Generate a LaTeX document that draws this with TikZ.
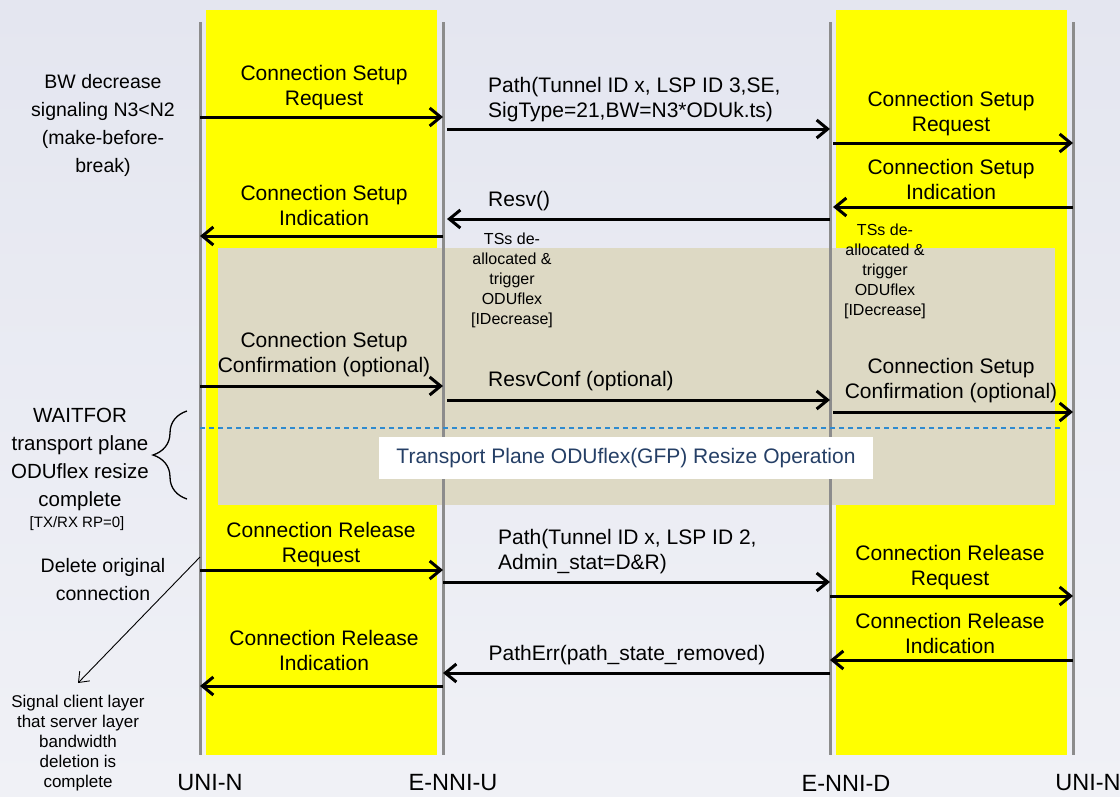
\documentclass[tikz,border=0pt]{standalone}
\usepackage{fontspec}
\setmainfont{Liberation Sans}
\usetikzlibrary{arrows.meta,decorations.pathreplacing}
\definecolor{bgtop}{HTML}{E4E6F0}
\definecolor{bgbot}{HTML}{F0F1F6}
\definecolor{lane}{HTML}{FFFF00}
\definecolor{beige}{HTML}{DDD9C4}
\definecolor{lifegray}{HTML}{8C8C8C}
\definecolor{dashblue}{HTML}{2E8BD0}
\definecolor{opblue}{HTML}{253F66}
\begin{document}
\begin{tikzpicture}[x=1pt,y=-1pt,
  lifeline/.style={draw=lifegray,line width=3pt},
  msg/.style={line width=3pt,-{Straight Barb[length=11pt,width=18pt,line width=3pt]}},
  lbl/.style={inner sep=0pt,align=center,font=\fontsize{21}{25}\selectfont},
  lbll/.style={inner sep=0pt,align=left,anchor=west,font=\fontsize{21}{25}\selectfont},
  small/.style={inner sep=0pt,align=center,font=\fontsize{16}{20}\selectfont},
  side/.style={inner sep=0pt,align=center,font=\fontsize{19.5}{28}\selectfont},
  endlbl/.style={inner sep=0pt,font=\fontsize{23.5}{25}\selectfont}]
% background
\shade[top color=bgtop,bottom color=bgbot] (0,0) rectangle (1120,796);
\useasboundingbox (0,0) rectangle (1120,796);
% yellow lanes
\fill[lane] (206,10) rectangle (437,755);
\fill[lane] (836,10) rectangle (1067,755);
% beige area
\fill[beige] (218,248) rectangle (1055,505);
% lifelines
\coordinate (A) at (200,22); \coordinate (Ab) at (200,755);
\coordinate (B) at (443,22); \coordinate (Bb) at (443,755);
\coordinate (C) at (830,22); \coordinate (Cb) at (830,755);
\coordinate (D) at (1073,22); \coordinate (Db) at (1073,755);
\draw[lifeline] (A) -- (Ab);
\draw[lifeline] (B) -- (Bb);
\draw[lifeline] (C) -- (Cb);
\draw[lifeline] (D) -- (Db);
% dashed line and operation box
\coordinate (dashL) at (200,428); \coordinate (dashR) at (1060,428);
\draw[dashblue,dashed,line width=1.2pt,dash pattern=on 5pt off 4pt] (dashL) -- (dashR);
\node[fill=white,minimum width=494pt,minimum height=42pt,inner sep=0pt,text=opblue,font=\fontsize{21}{25}\selectfont] (op) at (626,458) {Transport Plane ODUflex(GFP) Resize Operation};
% messages
\draw[msg] (A |- 0,117) -- (B |- 0,117);
\draw[msg] ([xshift=4pt]B |- 0,129) -- (C |- 0,129);
\draw[msg] ([xshift=3pt]C |- 0,143) -- (D |- 0,143);
\draw[msg] (D |- 0,207) -- ([xshift=3pt]C |- 0,207);
\draw[msg] (C |- 0,219) -- ([xshift=4pt]B |- 0,219);
\draw[msg] (B |- 0,236) -- (A |- 0,236);
\draw[msg] (A |- 0,386) -- (B |- 0,386);
\draw[msg] ([xshift=4pt]B |- 0,400) -- (C |- 0,400);
\draw[msg] ([xshift=3pt]C |- 0,412) -- (D |- 0,412);
\draw[msg] (A |- 0,570) -- (B |- 0,570);
\draw[msg] (B |- 0,582) -- (C |- 0,582);
\draw[msg] (C |- 0,596) -- (D |- 0,596);
\draw[msg] (D |- 0,660) -- (C |- 0,660);
\draw[msg] (C |- 0,673) -- (B |- 0,673);
\draw[msg] (B |- 0,686) -- (A |- 0,686);
% message labels
\node[lbl] (m1) at (324,88) {Connection Setup\\Request};
\node[lbll] (m2) at (488,100) {Path(Tunnel ID x, LSP ID 3,SE,\\SigType=21,BW=N3*ODUk.ts)};
\node[lbl] (m3) at (951,114) {Connection Setup\\Request};
\node[lbl] (m4) at (951,179) {Connection Setup\\Indication};
\node[lbll] (m5) at (488,201) {Resv()};
\node[lbl] (m6) at (324,205) {Connection Setup\\Indication};
\node[small] (ts1) at (512,280) {TSs de-\\allocated \&\\trigger\\ODUflex\\{[IDecrease]}};
\node[small] (ts2) at (885,271) {TSs de-\\allocated \&\\trigger\\ODUflex\\{[IDecrease]}};
\node[lbl] (m7) at (324,355) {Connection Setup\\Confirmation (optional)};
\node[lbll] (m8) at (488,381) {ResvConf (optional)};
\node[lbl] (m9) at (951,381) {Connection Setup\\Confirmation (optional)};
\node[lbl] (m10) at (321,545) {Connection Release\\Request};
\node[lbll] (m11) at (498,552) {Path(Tunnel ID x, LSP ID 2,\\Admin\_stat=D\&R)};
\node[lbl] (m12) at (950,568) {Connection Release\\Request};
\node[lbl] (m13) at (950,633) {Connection Release\\Indication};
\node[lbl] (m14) at (627,655) {PathErr(path\_state\_removed)};
\node[lbl] (m15) at (324,650) {Connection Release\\Indication};
% side notes
\node[side] (bw) at (103,125) {BW decrease\\signaling N3<N2\\(make-before-\\break)};
\node[inner sep=0pt,align=center,font=\fontsize{20.5}{28}\selectfont] (wait) at (80,459) {WAITFOR\\transport plane\\ODUflex resize\\complete};
\node[inner sep=0pt,font=\fontsize{15}{17}\selectfont] (rp) at (77,524) {[TX/RX RP=0]};
\draw[decorate,decoration={brace,amplitude=34pt,aspect=0.5},line width=1.3pt] (187,499) -- (187,411);
\node[side] (del) at (103,580) {Delete original\\connection};
\node[inner sep=0pt,align=center,font=\fontsize{17}{20}\selectfont] (sig) at (78,743) {Signal client layer\\that server layer\\bandwidth\\deletion is\\complete};
\coordinate (delstart) at (200,557);
\coordinate (delend) at (78,683);
\draw[line width=0.9pt,-{Straight Barb[length=9pt,width=14pt,line width=0.9pt]}] (delstart) -- (delend);
% bottom labels
\node[endlbl] (n1) at (210,783) {UNI-N};
\node[endlbl] (n2) at (453,783) {E-NNI-U};
\node[endlbl] (n3) at (846,783) {E-NNI-D};
\node[endlbl] (n4) at (1088,783) {UNI-N};
\end{tikzpicture}
\end{document}
